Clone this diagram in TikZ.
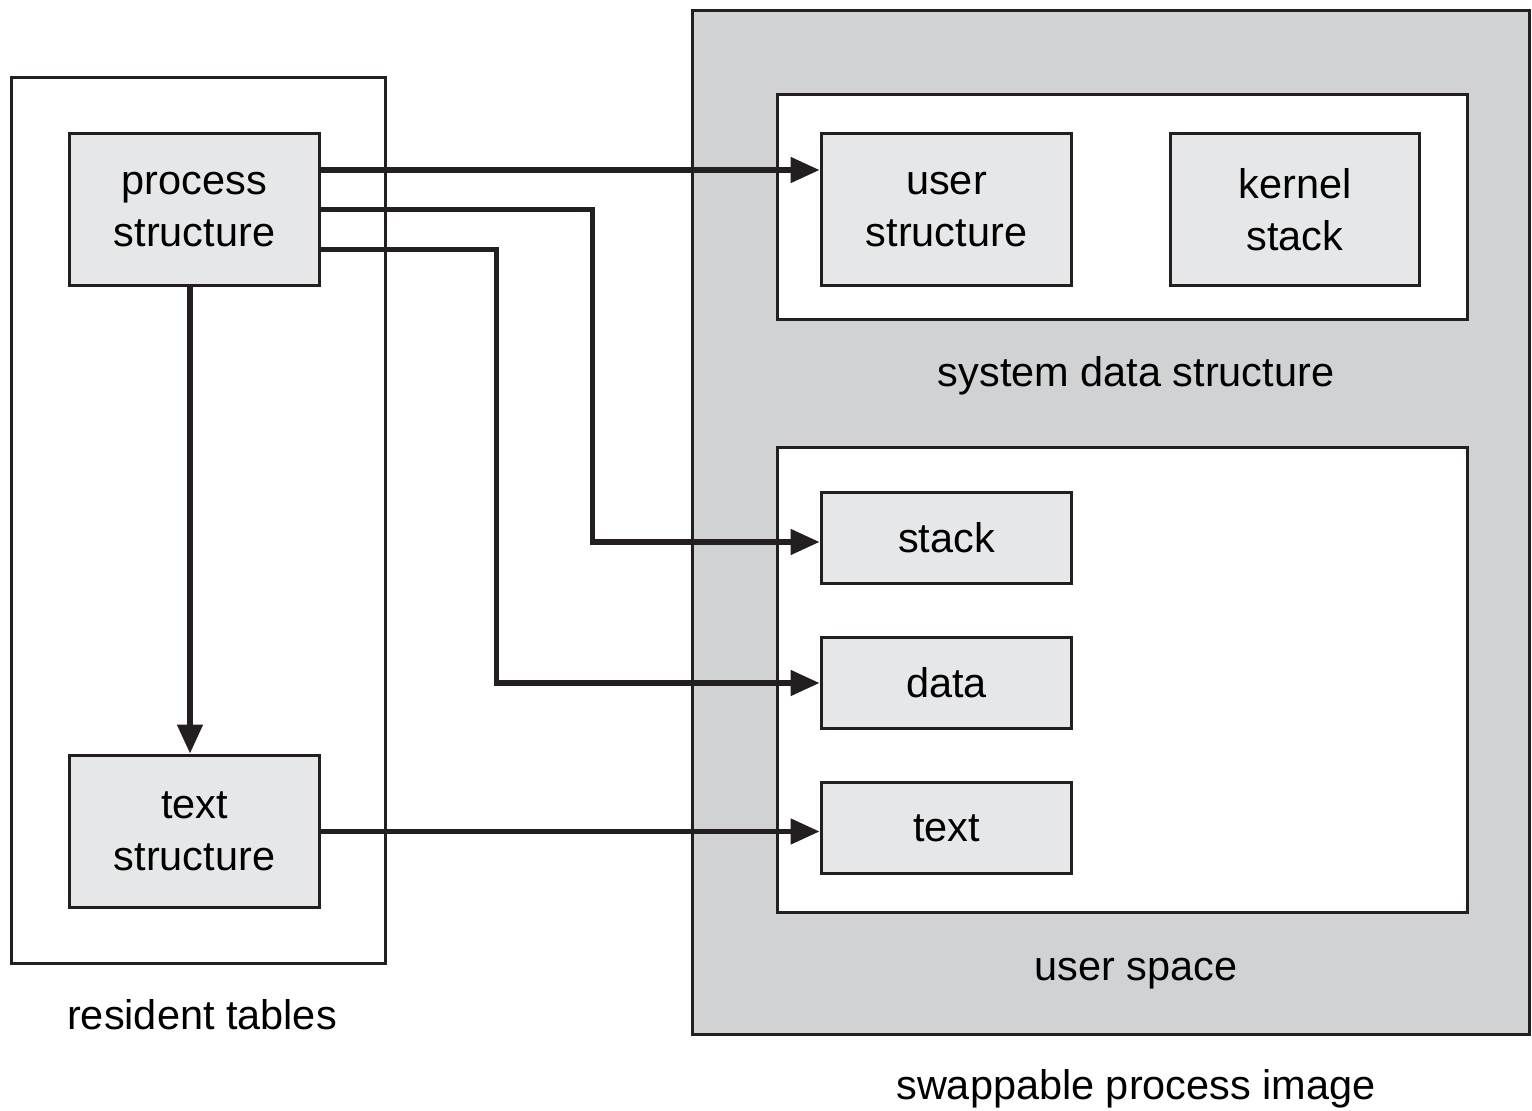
\documentclass[tikz,border=0pt]{standalone}
\usepackage{fontspec}
\setmainfont{Liberation Sans}
\usetikzlibrary{arrows.meta,backgrounds}

\definecolor{outergray}{HTML}{D1D2D4}
\definecolor{boxgray}{HTML}{E6E7E8}
\definecolor{ink}{HTML}{231F20}

\begin{document}
\begin{tikzpicture}[x=0.02cm, y=0.02cm,
    font=\fontsize{23.6}{29.5}\selectfont,
    frame/.style={draw=ink, line width=1.7pt, inner sep=0pt},
    cell/.style={frame, fill=boxgray, align=center, minimum width=5.02cm, minimum height=3.06cm},
    seg/.style={cell, minimum height=1.84cm},
    link/.style={draw=ink, line width=2.85pt, -{Triangle[length=0.58cm, width=0.5cm]}},
    caption/.style={inner sep=0pt}
    ]
    \useasboundingbox (0,0) rectangle (1532,1110);

    % containers
    \node[frame, fill=white, minimum width=7.5cm, minimum height=17.74cm] (resident) at (198.5,589.5) {};
    \node[frame, fill=outergray, minimum width=16.76cm, minimum height=20.5cm] (swap) at (1111,587.5) {};
    \node[frame, fill=white, minimum width=13.82cm, minimum height=4.52cm] (sysdata) at (1122.5,903) {};
    \node[frame, fill=white, minimum width=13.82cm, minimum height=9.32cm] (uspace) at (1122.5,430) {};

    % boxes
    \node[cell] (proc) at (194.5,900.5) {process\\structure};
    \node[cell] (tstruct) at (194.5,278.5) {text\\structure};
    \node[cell] (ustruct) at (946.5,900.5) {user\\structure};
    \node[cell, minimum width=5cm] (kstack) at (1295,900.5) {kernel\\stack};
    \node[seg] (stack) at (946.5,572) {stack};
    \node[seg] (data) at (946.5,427) {data};
    \node[seg] (text) at (946.5,282) {text};

    % captions
    \node[caption] (sdcap) at (1136,734) {system data structure};
    \node[caption] (uscap) at (1136,136) {user space};
    \node[caption] (rtcap) at (202,95) {resident tables};
    \node[caption] (spcap) at (1136,21) {swappable process image};

    % connectors
    \coordinate (bendstack) at (592,0);
    \coordinate (benddata) at (496,0);
    \draw[link] ([yshift=0.79cm]proc.east) -- ([yshift=0.79cm]ustruct.west);
    \draw[link] (proc.east) -- (proc.east -| bendstack) |- ([yshift=-0.08cm]stack.west);
    \draw[link] ([yshift=-0.81cm]proc.east) -- ([yshift=-0.81cm]proc.east -| benddata) |- (data.west);
    \draw[link] ([xshift=-0.09cm]proc.south) -- ([xshift=-0.09cm]tstruct.north);
    \draw[link] (tstruct.east) -- (tstruct.east -| text.west);
\end{tikzpicture}
\end{document}
